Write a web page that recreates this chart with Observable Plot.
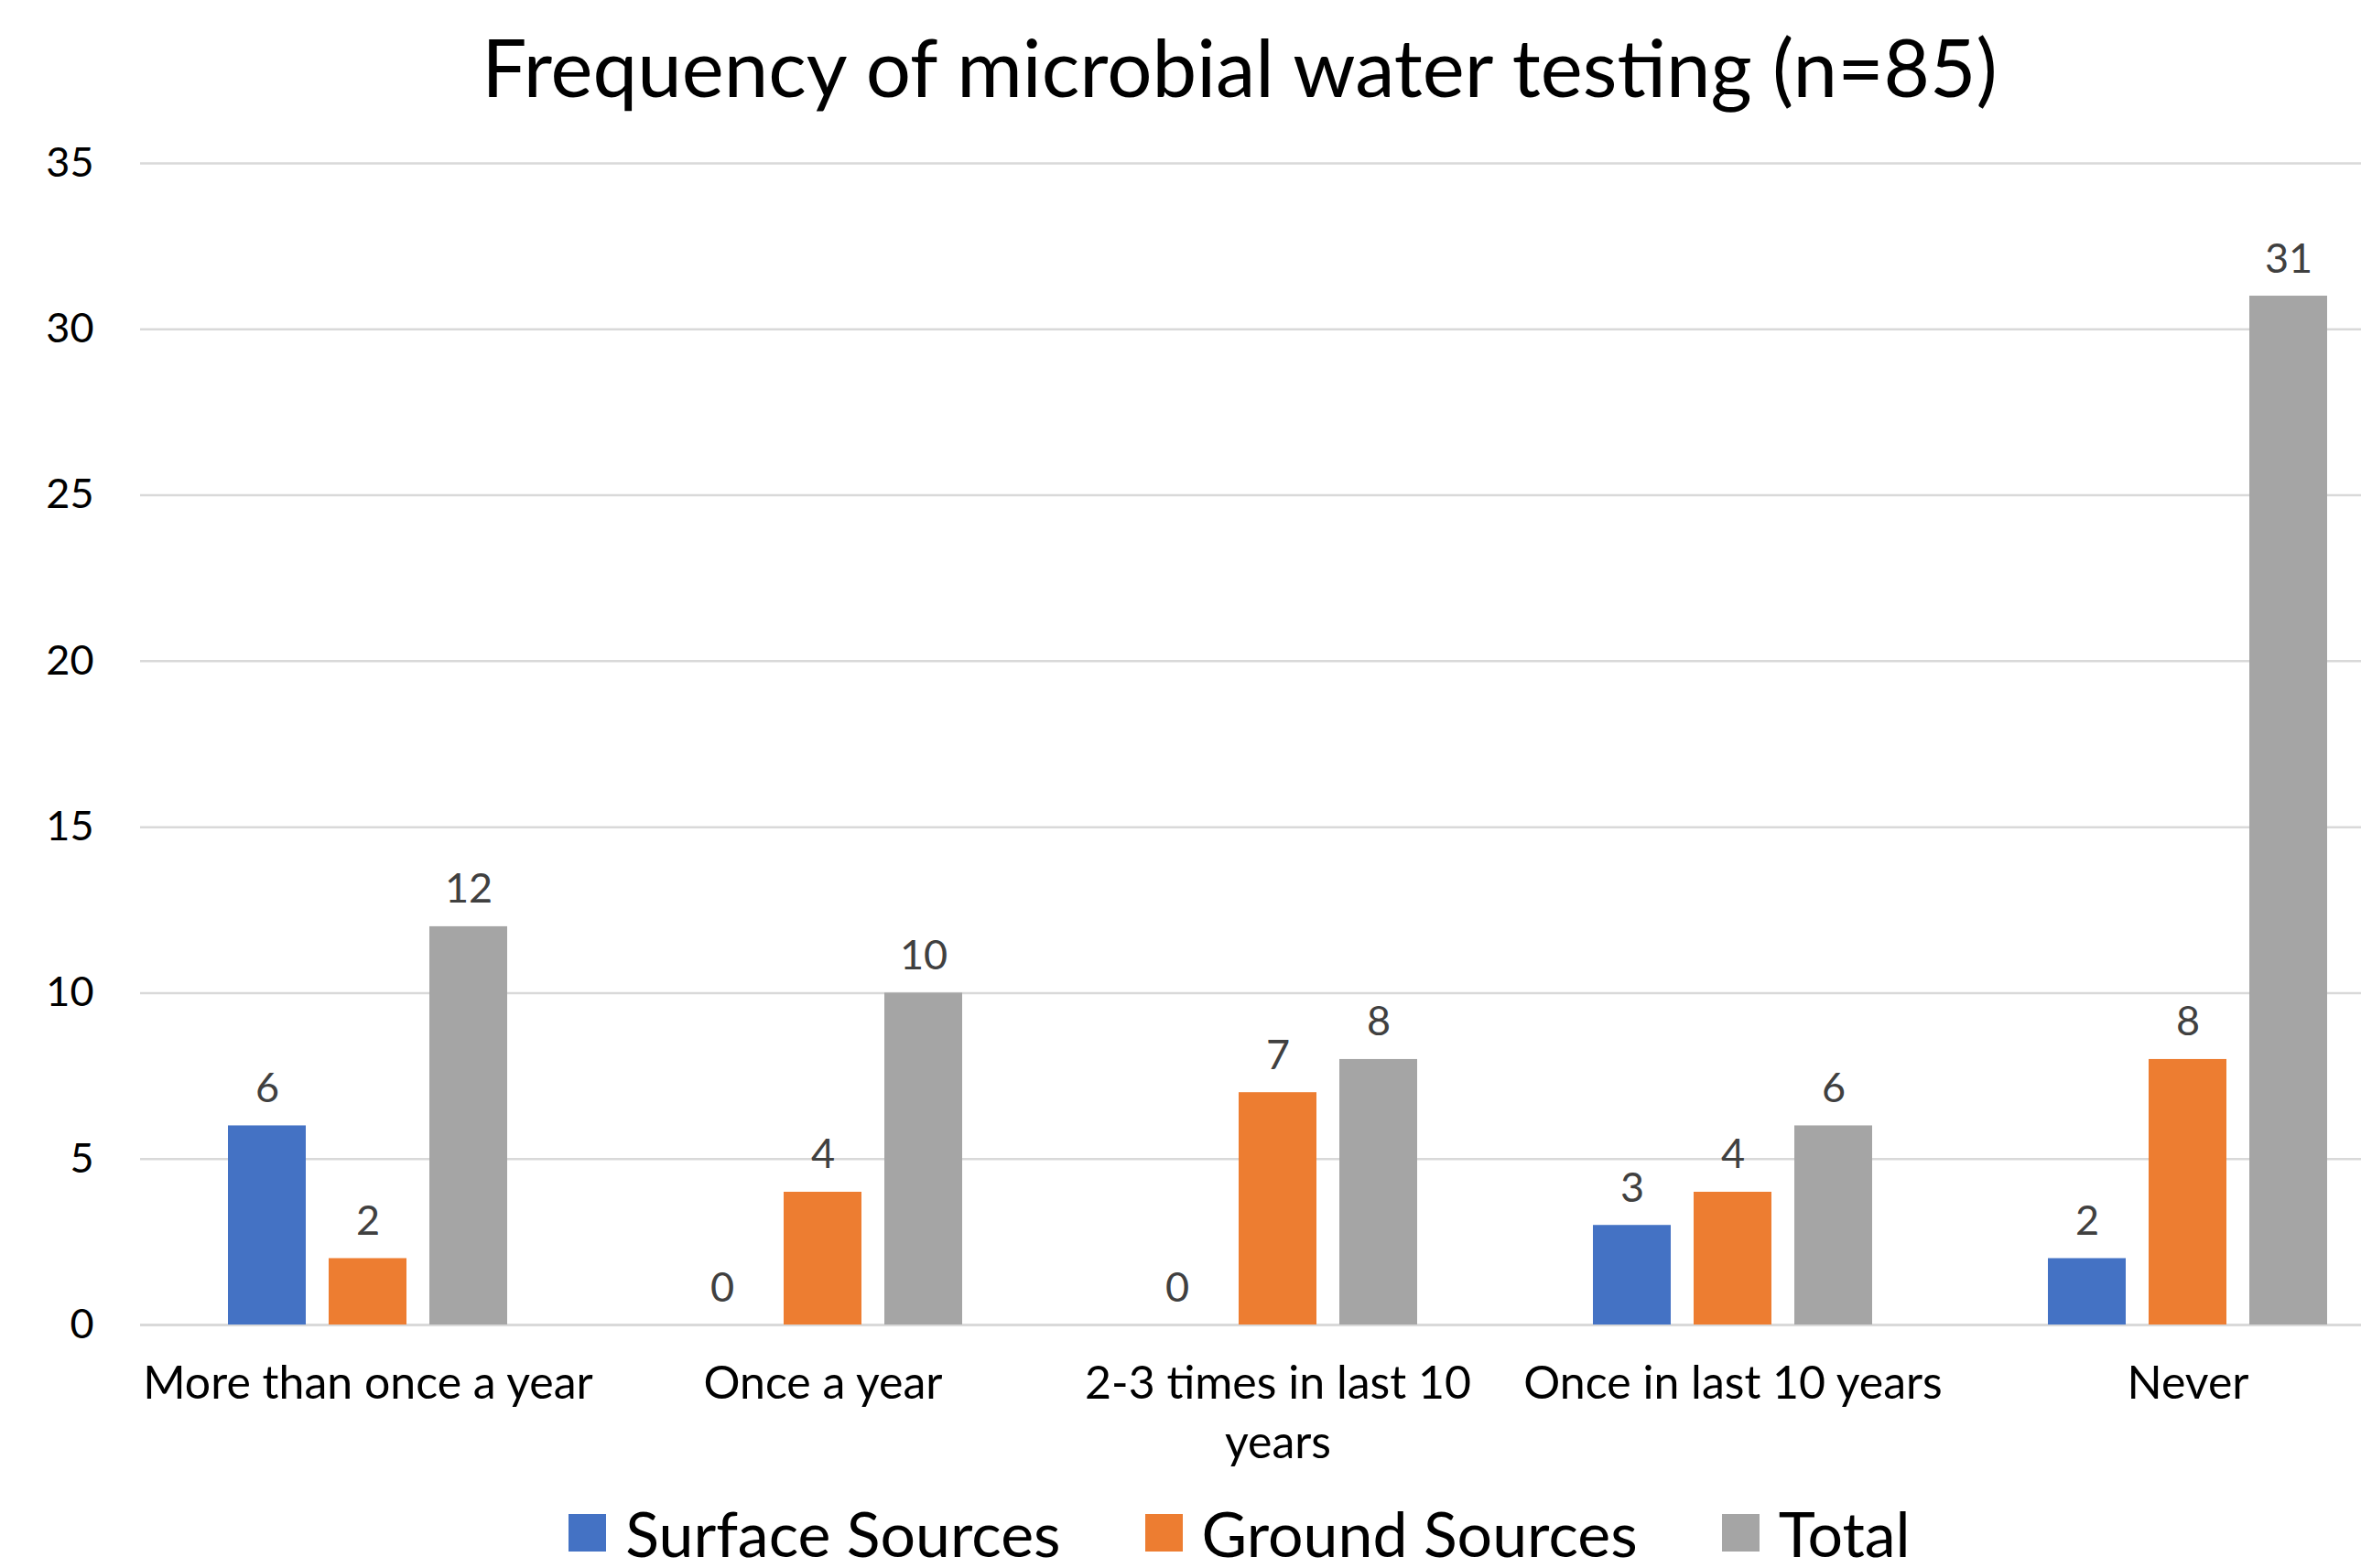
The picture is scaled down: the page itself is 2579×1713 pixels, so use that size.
<!DOCTYPE html>
<html>
<head>
<meta charset="utf-8">
<script src="https://cdn.jsdelivr.net/npm/d3@7"></script>
<script src="https://cdn.jsdelivr.net/npm/@observablehq/plot@0.6"></script>
<style>
  html, body { margin: 0; padding: 0; background: #fff; overflow: hidden; }
  #wrap { width: 2708px; font-family: Lato, "Open Sans", sans-serif; }
  #title { height: 150px; line-height: 146px; text-align: center; font-size: 87px; color: #000; white-space: nowrap; }
  #chart { width: 2579px; height: 1470px; }
  #legend { height: 93px; display: flex; justify-content: center; align-items: center; padding-top: 16px; box-sizing: border-box; font-size: 68px; line-height: 0.9; color: #000; }
  .item { display: flex; align-items: center; margin: 0 46px; }
  .sw { width: 41px; height: 41px; margin-right: 21px; }
</style>
</head>
<body>
<div id="wrap">
  <div id="title">Frequency of microbial water testing (n=85)</div>
  <div id="chart"></div>
  <div id="legend"></div>
</div>
<script>
const categories = ["More than once a year", "Once a year", "2-3 times in last 10 years", "Once in last 10 years", "Never"];
const categoryLabels = ["More than once a year", "Once a year", "2-3 times in last 10\nyears", "Once in last 10 years", "Never"];
const series = ["Surface Sources", "Ground Sources", "Total"];
const surface = [6, 0, 0, 3, 2];
const ground = [2, 4, 7, 4, 8];
const total = [12, 10, 8, 6, 31];
const colors = ["#4472C4", "#ED7D31", "#A5A5A5"];
const yTicks = [0, 5, 10, 15, 20, 25, 30, 35];

const seriesValues = [surface, ground, total];
const rows = categories.flatMap((c, i) => series.map((s, j) => ({category: c, series: s, value: seriesValues[j][i]})));

const chart = Plot.plot({
  width: 2579,
  height: 1470,
  marginTop: 28,
  marginLeft: 153,
  marginRight: 0,
  marginBottom: 173,
  style: {fontFamily: "Lato, 'Open Sans', sans-serif", color: "#000", background: "#fff"},
  fx: {domain: categories, range: [153, 2638], padding: 0, label: null},
  x: {domain: series, paddingInner: 0.223, paddingOuter: 0.87, axis: null},
  y: {domain: [0, 35], label: null},
  color: {domain: series, range: colors},
  marks: [
    Plot.gridY(yTicks, {stroke: "#D9D9D9", strokeOpacity: 1, strokeWidth: 2.5}),
    Plot.axisY(yTicks, {tickSize: 0, tickPadding: 51, fontSize: 45, label: null}),
    Plot.axisFx({anchor: "bottom", tickSize: 0, tickPadding: 34, fontSize: 50, lineHeight: 1.3, label: null,
      tickFormat: d => categoryLabels[categories.indexOf(d)]}),
    Plot.ruleY([0], {stroke: "#D9D9D9", strokeWidth: 3}),
    Plot.barY(rows, {fx: "category", x: "series", y: "value", fill: "series"}),
    Plot.text(rows, {fx: "category", x: "series", y: "value", text: d => String(d.value),
      lineAnchor: "bottom", dy: -26, fontSize: 45, fill: "#404040"})
  ]
});
document.getElementById("chart").appendChild(chart);

const legend = document.getElementById("legend");
series.forEach((s, i) => {
  const item = document.createElement("div");
  item.className = "item";
  const sw = document.createElement("div");
  sw.className = "sw";
  sw.style.background = colors[i];
  const label = document.createElement("span");
  label.textContent = s;
  item.appendChild(sw);
  item.appendChild(label);
  legend.appendChild(item);
});
</script>
</body>
</html>
